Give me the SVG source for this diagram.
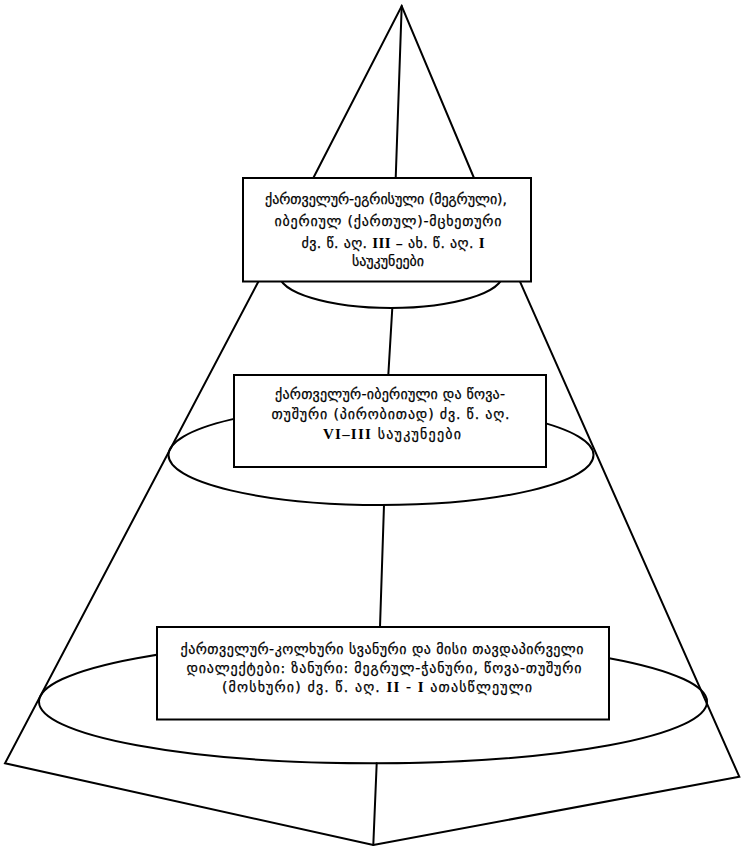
<svg xmlns="http://www.w3.org/2000/svg" width="741" height="846" viewBox="0 0 741 846">
<defs>
<style>
.ln{fill:none;stroke:#000;stroke-width:2;stroke-linejoin:miter;stroke-linecap:round}
.el{fill:none;stroke:#000;stroke-width:2}
.bx{fill:#fff;stroke:#000;stroke-width:2}
.t{font-family:"DejaVu Sans","Noto Sans",sans-serif;font-size:14px;fill:#000;stroke:#000;stroke-width:0.25;text-anchor:middle}
.r{font-family:"Liberation Serif","DejaVu Serif",serif;font-weight:bold;font-size:15px;stroke-width:0}
</style>
</defs>
<rect width="741" height="846" fill="#fff"/>
<g id="outline">
<path class="ln" d="M313.3,178 L401.7,6 L474,178"/>
<path class="ln" d="M258.3,281.7 L5,763.3 L373.3,845 L739.3,776.7 L520,281.7"/>
</g>
<g id="connectors">
<line class="ln" x1="401.7" y1="6" x2="395.7" y2="178"/>
<line class="ln" x1="392.3" y1="308" x2="388.3" y2="375"/>
<line class="ln" x1="384" y1="505" x2="380" y2="627"/>
<line class="ln" x1="376.7" y1="763.3" x2="373.3" y2="845"/>
</g>
<g id="level1">
<ellipse class="el" cx="391" cy="274" rx="112" ry="34"/>
<rect class="bx" x="243" y="178" width="288" height="103.5"/>
<text class="t" x="386" y="204" textLength="242" lengthAdjust="spacing">ქართველურ-ეგრისული  (მეგრული),</text>
<text class="t" x="388" y="226" textLength="227" lengthAdjust="spacing">იბერიულ  (ქართულ)-მცხეთური</text>
<text class="t" x="393" y="247.5" textLength="183" lengthAdjust="spacing">ძვ. წ. აღ. <tspan class="r">III</tspan> – ახ. წ. აღ. <tspan class="r">I</tspan></text>
<text class="t" x="388" y="266">საუკუნეები</text>
</g>
<g id="level2">
<ellipse class="el" cx="381" cy="455" rx="212.5" ry="50"/>
<rect class="bx" x="234" y="375" width="312" height="92"/>
<text class="t" x="390" y="398.5" textLength="230" lengthAdjust="spacing">ქართველურ-იბერიული  და  წოვა-</text>
<text class="t" x="390.5" y="418.5" textLength="238" lengthAdjust="spacing">თუშური (პირობითად) ძვ. წ. აღ.</text>
<text class="t" x="392" y="438.5" textLength="138" lengthAdjust="spacing"><tspan class="r">VI–III</tspan>  საუკუნეები</text>
</g>
<g id="level3">
<ellipse class="el" cx="373" cy="701.7" rx="334" ry="61.6"/>
<rect class="bx" x="157" y="627" width="452" height="92.5"/>
<text class="t" x="382" y="653.5" textLength="403" lengthAdjust="spacing">ქართველურ-კოლხური  სვანური  და  მისი  თავდაპირველი</text>
<text class="t" x="384" y="673" textLength="395" lengthAdjust="spacing">დიალექტები:  ზანური:  მეგრულ-ჭანური,  წოვა-თუშური</text>
<text class="t" x="377" y="692" textLength="310" lengthAdjust="spacing">(მოსხური)  ძვ.  წ.  აღ.  <tspan class="r">II</tspan>  -  <tspan class="r">I</tspan>  ათასწლეული</text>
</g>
</svg>
